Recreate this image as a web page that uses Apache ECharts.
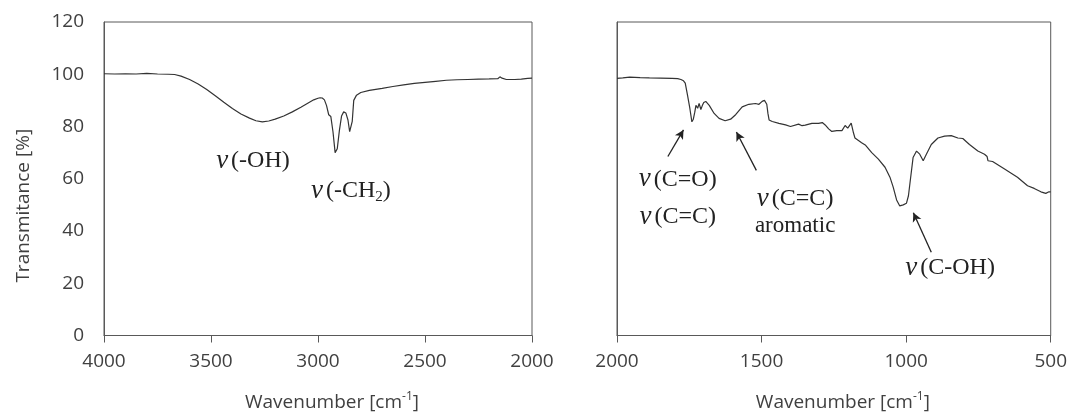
<!DOCTYPE html>
<html>
<head>
<meta charset="utf-8">
<script src="https://cdn.jsdelivr.net/npm/echarts@6/dist/echarts.min.js"></script>
<style>html,body{margin:0;padding:0;background:#fff}#c{width:1070px;height:417px}</style>
</head>
<body>
<div id="c"></div>
<script>
// ---- Data ----
const leftWavenumbers = [4000,3950,3900,3850,3800,3750,3700,3670,3640,3600,3560,3520,3480,3440,3400,3360,3320,3290,3260,3230,3200,3160,3120,3080,3050,3020,3000,2990,2980,2970,2960,2950,2940,2930,2920,2915,2910,2900,2890,2880,2870,2860,2852,2847,2840,2833,2820,2800,2760,2700,2650,2600,2550,2500,2450,2400,2350,2300,2250,2200,2160,2150,2140,2120,2080,2050,2020,2000];
const leftTransmittance = [100.2,100.1,100.2,100.1,100.3,100.1,100.0,99.9,99.3,98.0,96.3,94.2,91.8,89.3,86.9,84.8,83.2,82.2,81.8,82.1,82.8,84.0,85.6,87.4,88.8,90.2,90.8,91.0,90.9,90.2,88.0,84.5,83.8,78.0,70.0,69.4,71.5,78.5,84.0,85.6,85.2,82.5,78.0,77.5,82.0,90.0,92.0,93.0,93.8,94.6,95.3,95.9,96.5,96.9,97.3,97.7,97.9,98.0,98.1,98.2,98.3,99.0,98.5,98.0,98.0,98.1,98.4,98.5];

const rightWavenumbers = [2000,1980,1956,1920,1888,1850,1810,1790,1779,1770,1764,1756,1748,1741,1736,1731,1727,1721,1716,1710,1705,1700,1693,1681,1664,1647,1626,1607,1589,1567,1544,1521,1509,1498,1490,1482,1478,1474,1463,1440,1417,1400,1394,1372,1360,1349,1326,1303,1290,1280,1268,1257,1240,1222,1211,1202,1190,1182,1177,1154,1140,1119,1096,1073,1056,1045,1033,1022,1010,999,992,987,976,964,953,941,930,913,890,867,844,821,804,781,752,729,720,717,701,661,615,580,557,534,517,506,500];
const rightTransmittance = [98.4,98.6,98.9,98.7,98.6,98.5,98.4,98.3,98.0,97.5,96.6,91.9,86.9,81.8,82.8,85.5,88.1,87.0,88.8,86.5,88.0,89.2,89.6,88.1,85.0,83.1,82.2,82.8,84.6,87.5,88.5,88.8,88.5,89.6,90.0,88.5,85.0,82.5,81.9,81.2,80.6,80.0,80.6,80.9,80.3,80.5,81.2,81.2,81.5,80.6,79.1,78.1,78.4,78.4,80.4,79.4,81.3,77.5,75.6,73.8,72.8,70.0,67.5,64.4,60.6,56.9,51.9,49.6,50.0,50.6,53.5,58.1,68.1,70.6,69.4,66.9,69.4,73.1,75.6,76.3,76.5,75.6,75.4,73.1,70.6,69.4,68.5,66.9,66.6,63.8,60.6,57.3,56.3,55.0,54.4,55.0,55.0];

const leftXTicks = {min: 2000, max: 4000, step: 500};
const rightXTicks = {min: 500, max: 2000, step: 500};
const yTicks = {min: 0, max: 120, step: 20};

// annotation texts and their anchor points (data coordinates)
const leftLabels = ['{nu|ν}{t|(-OH)}', '{nu|ν}{t|(-CH}{sub|2}{t|)}'];
const leftLabelAt = [[3304, 67], [2846, 55.3]];
const rightLabels = ['{nu|ν}{t|(C=O)}', '{nu|ν}{t|(C=C)}', '{nu|ν}{t|(C=C)}', '{a|aromatic}', '{nu|ν}{t|(C-OH)}'];
const rightLabelAt = [[1790, 59.8], [1790, 45.5], [1384, 52.3], [1384, 42.1], [848, 25.9]];
const rightArrows = [[[1824, 68.5], [1770, 78.7]], [[1518, 63.2], [1587, 77.9]], [[913, 31.9], [975, 47]]];

// ---- Chart ----
const zip = (xs, ys) => xs.map((x, i) => [x, ys[i]]);
const axisColor = '#595959';
const textColor = '#404040';
const sans = 'Open Sans';
const serifRich = {
  nu: {fontFamily: 'Liberation Serif', fontStyle: 'italic', fontSize: 27, color: '#222', lineHeight: 28, padding: [0, 3, 0, 0]},
  t: {fontFamily: 'Liberation Serif', fontSize: 24, color: '#222', lineHeight: 28},
  a: {fontFamily: 'Liberation Serif', fontSize: 23, color: '#222', lineHeight: 28},
  sub: {fontFamily: 'Liberation Serif', fontSize: 15, color: '#222', lineHeight: 15, verticalAlign: 'bottom'}
};
const nameRich = {
  m: {fontFamily: sans, fontSize: 19, color: textColor, lineHeight: 24},
  sup: {fontFamily: sans, fontSize: 12, color: textColor, lineHeight: 12, verticalAlign: 'top'}
};
function xAxisCfg(idx, t, pad) {
  return {
    gridIndex: idx, type: 'value', inverse: true,
    min: t.min, max: t.max, interval: t.step,
    axisLine: {show: true, lineStyle: {color: axisColor, width: 1}},
    axisTick: {show: true, inside: false, length: 7, lineStyle: {color: axisColor, width: 1}},
    axisLabel: {fontFamily: sans, fontSize: 19, color: textColor, margin: 17, formatter: v => String(v)},
    splitLine: {show: false},
    name: '{m|Wavenumber [cm}{sup|-1}{m|]}',
    nameLocation: 'middle', nameGap: 55,
    nameTextStyle: {rich: nameRich, padding: [0, 0, 0, pad]}
  };
}
function markPoints(texts, at) {
  return {
    symbol: 'rect', symbolSize: 1, silent: true,
    itemStyle: {color: 'rgba(0,0,0,0)'},
    label: {show: true, position: 'inside', formatter: p => p.name, rich: serifRich},
    data: texts.map((s, i) => ({name: s, coord: at[i]}))
  };
}
const chart = echarts.init(document.getElementById('c'), null, {renderer: 'canvas'});
chart.setOption({
  animation: false,
  backgroundColor: '#fff',
  grid: [
    {left: 104, right: 538, top: 22, bottom: 77.5, show: true, borderColor: axisColor, borderWidth: 1, backgroundColor: 'transparent'},
    {left: 617, right: 17, top: 22, bottom: 77.5, show: true, borderColor: axisColor, borderWidth: 1, backgroundColor: 'transparent'}
  ],
  xAxis: [xAxisCfg(0, leftXTicks, 28), xAxisCfg(1, rightXTicks, 18)],
  yAxis: [
    {gridIndex: 0, type: 'value', min: yTicks.min, max: yTicks.max, interval: yTicks.step,
     axisLine: {show: true, lineStyle: {color: axisColor}}, axisTick: {show: false},
     axisLabel: {fontFamily: sans, fontSize: 19, color: textColor, margin: 20},
     splitLine: {show: false},
     name: 'Transmitance [%]', nameLocation: 'middle', nameGap: 71, nameRotate: 90,
     nameTextStyle: {fontFamily: sans, fontSize: 19, color: textColor, padding: [0, 54, 0, 0]}},
    {gridIndex: 1, type: 'value', min: yTicks.min, max: yTicks.max, interval: yTicks.step,
     axisLine: {show: true, lineStyle: {color: axisColor}}, axisTick: {show: false},
     axisLabel: {show: false}, splitLine: {show: false}}
  ],
  series: [
    {type: 'line', xAxisIndex: 0, yAxisIndex: 0, data: zip(leftWavenumbers, leftTransmittance),
     showSymbol: false, lineStyle: {color: '#333', width: 1.2}, silent: true,
     markPoint: markPoints(leftLabels, leftLabelAt)},
    {type: 'line', xAxisIndex: 1, yAxisIndex: 1, data: zip(rightWavenumbers, rightTransmittance),
     showSymbol: false, lineStyle: {color: '#333', width: 1.2}, silent: true,
     markPoint: markPoints(rightLabels, rightLabelAt),
     markLine: {
       silent: true, symbol: ['none', 'arrow'], symbolSize: [7, 9],
       lineStyle: {color: '#222', width: 1.3, type: 'solid'},
       label: {show: false},
       data: rightArrows.map(a => [{coord: a[0]}, {coord: a[1]}])
     }}
  ]
});
</script>
</body>
</html>
